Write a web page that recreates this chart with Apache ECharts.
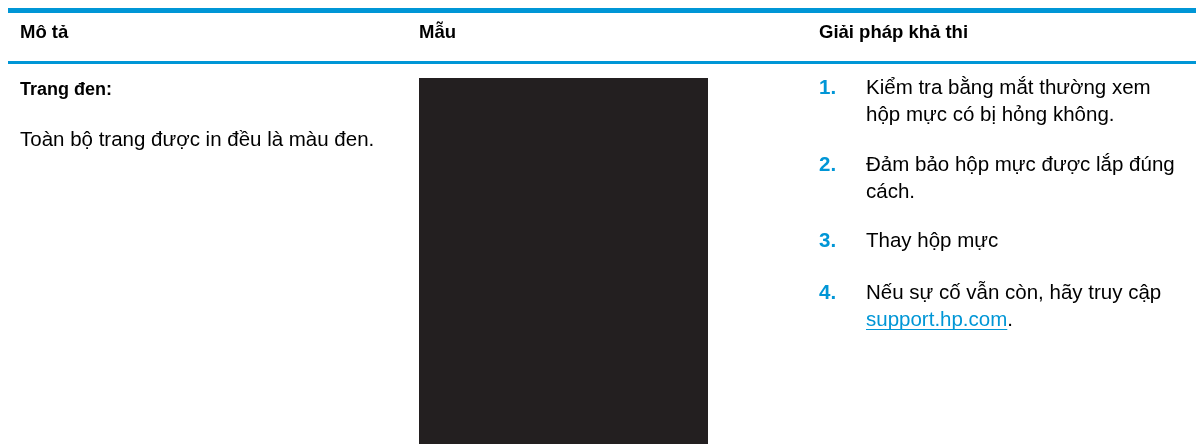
<!DOCTYPE html>
<html>
<head>
<meta charset="utf-8">
<script src="https://cdn.jsdelivr.net/npm/echarts@6/dist/echarts.min.js"></script>
<style>
html,body{margin:0;padding:0;background:#fff;}
#chart{width:1196px;height:444px;}
</style>
</head>
<body>
<div id="chart"></div>
<script>
// ---- data ----
const headers = ["Mô tả", "Mẫu", "Giải pháp khả thi"];
const issueTitle = "Trang đen:";
const issueText = "Toàn bộ trang được in đều là màu đen.";
const sampleCategories = ["Trang đen"];
const sampleValues = [1];
const stepNumbers = ["1.", "2.", "3.", "4."];
const stepLines = [
  ["Kiểm tra bằng mắt thường xem", "hộp mực có bị hỏng không."],
  ["Đảm bảo hộp mực được lắp đúng", "cách."],
  ["Thay hộp mực"],
  ["Nếu sự cố vẫn còn, hãy truy cập"]
];
const linkText = "support.hp.com";
const linkTail = ".";

// ---- layout ----
const BLUE = "#0096d6";
const FONT = "'Liberation Sans', Arial, Helvetica, sans-serif";
const colX = [20, 419, 819];
const textX = 866;
const BODY = 20.5;

function measure(txt, size, weight) {
  const c = document.createElement('canvas').getContext('2d');
  c.font = (weight || 'normal') + ' ' + size + 'px ' + FONT;
  return c.measureText(txt).width;
}

const g = [];
// rules
g.push({type:'rect', shape:{x:8, y:8, width:1188, height:5}, style:{fill:BLUE}});
g.push({type:'rect', shape:{x:8, y:61, width:1188, height:3}, style:{fill:BLUE}});
// headers
headers.forEach((h, i) => {
  g.push({type:'text', x:colX[i], y:33, style:{text:h, font:'bold 18.5px ' + FONT, fill:'#000', verticalAlign:'middle'}});
});
// description column
g.push({type:'text', x:20, y:90, style:{text:issueTitle, font:'bold 18px ' + FONT, fill:'#000', verticalAlign:'middle'}});
g.push({type:'text', x:20, y:140, style:{text:issueText, font:BODY + 'px ' + FONT, fill:'#000', verticalAlign:'middle'}});
// steps
const itemY = [88, 165, 241, 293];
const lineH = 27;
stepLines.forEach((lines, i) => {
  g.push({type:'text', x:819, y:itemY[i], style:{text:stepNumbers[i], font:'bold ' + BODY + 'px ' + FONT, fill:BLUE, verticalAlign:'middle'}});
  lines.forEach((ln, j) => {
    g.push({type:'text', x:textX, y:itemY[i] + j * lineH, style:{text:ln, font:BODY + 'px ' + FONT, fill:'#000', verticalAlign:'middle'}});
  });
});
// link line
const linkY = itemY[3] + lineH;
const lw = measure(linkText, BODY);
g.push({type:'text', x:textX, y:linkY, style:{text:linkText, font:BODY + 'px ' + FONT, fill:BLUE, verticalAlign:'middle'}});
g.push({type:'text', x:textX + lw, y:linkY, style:{text:linkTail, font:BODY + 'px ' + FONT, fill:'#000', verticalAlign:'middle'}});
g.push({type:'rect', shape:{x:textX, y:linkY + 9, width:lw, height:1}, style:{fill:BLUE}});

const chart = echarts.init(document.getElementById('chart'), null, {renderer:'canvas'});
chart.setOption({
  animation:false,
  backgroundColor:'#fff',
  grid:{left:419, width:289, top:78, bottom:0, containLabel:false},
  xAxis:{type:'category', data:sampleCategories, show:false},
  yAxis:{type:'value', min:0, max:1, show:false},
  series:[{type:'bar', data:sampleValues, barWidth:'100%', itemStyle:{color:'#231f20'}, silent:true}],
  graphic:g
});
</script>
</body>
</html>
